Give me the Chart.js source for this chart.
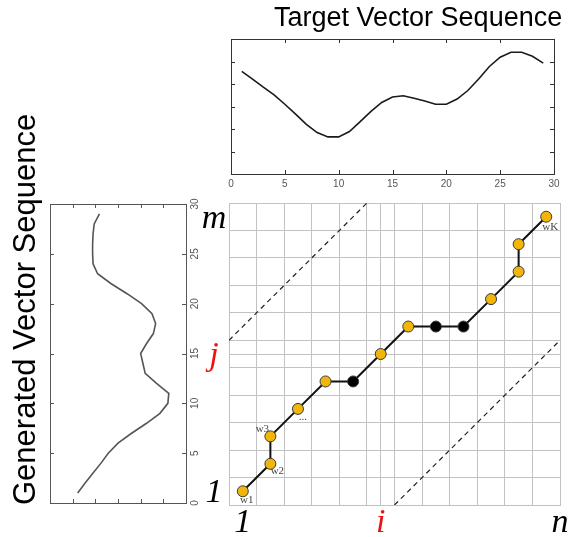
<!DOCTYPE html>
<html>
<head>
<meta charset="utf-8">
<script src="https://cdn.jsdelivr.net/npm/chart.js@4.4.1/dist/chart.umd.min.js"></script>
<style>
  html, body { margin: 0; padding: 0; background: #fff; }
  #wrap { position: relative; width: 577px; height: 537px; overflow: hidden; }
  #wrap canvas { position: absolute; left: 0; top: 0; }
  .title { position: absolute; left: 0; top: 0; font-family: "Liberation Sans", Arial, sans-serif;
           color: #000; white-space: nowrap; line-height: 1; transform-origin: 0 0; }
</style>
</head>
<body>
<div id="wrap">
  <canvas id="chart-target" width="577" height="537"></canvas>
  <canvas id="chart-generated" width="577" height="537"></canvas>
  <canvas id="chart-warp" width="577" height="537"></canvas>
  <div class="title" style="font-size:27px; transform: translate(274px, 4px)">Target Vector Sequence</div>
  <div class="title" style="font-size:31px; transform: translate(9px, 505px) rotate(-90deg)">Generated Vector Sequence</div>
</div>
<script>
// Target sequence (top plot)
const targetIdx  = [1, 2, 3, 4, 5, 6, 7, 8, 9, 10, 11, 12, 13, 14, 15, 16, 17, 18, 19, 20, 21, 22, 23, 24, 25, 26, 27, 28, 29];
const targetVals = [4.56, 4.22, 3.86, 3.52, 3.1, 2.66, 2.21, 1.84, 1.65, 1.65, 1.89, 2.33, 2.78, 3.18, 3.42, 3.48, 3.37, 3.24, 3.1, 3.1, 3.33, 3.71, 4.22, 4.78, 5.19, 5.41, 5.41, 5.23, 4.93];

// Generated sequence (left plot, drawn sideways)
const genIdx  = [1, 2, 3, 4, 5, 6, 7, 8, 9, 10, 11, 12, 13, 14, 15, 16, 17, 18, 19, 20, 21, 22, 23, 24, 25, 26, 27, 28, 29];
const genVals = [1.22, 1.55, 1.9, 2.25, 2.57, 3.0, 3.6, 4.26, 4.85, 5.2, 5.24, 4.7, 4.2, 4.1, 4.0, 4.26, 4.56, 4.66, 4.5, 4.04, 3.4, 2.7, 2.1, 1.9, 1.88, 1.88, 1.9, 1.95, 2.18];

// Warping grid
const gridCols = 12;
const gridRows = 11;
const warpCols  = [0, 1, 1, 2, 3, 4, 5, 6, 7, 8, 9, 10, 10, 11];
const warpRows  = [0, 1, 2, 3, 4, 4, 5, 6, 6, 6, 7, 8, 9, 10];
const warpKinds = ['y', 'y', 'y', 'y', 'y', 'k', 'y', 'y', 'k', 'k', 'y', 'y', 'y', 'y'];
const warpNames = ['w1', 'w2', 'w3', '...', '', '', '', '', '', '', '', '', '', 'wK'];
const upperBandX = [0, 5];
const upperBandY = [6, 11];
const lowerBandX = [6, 12];
const lowerBandY = [0, 6];

// italic axis labels of the grid
const colLabelPos  = [0.5, 5.5, 12];
const colLabelText = ['1', 'i', 'n'];
const colLabelRed  = [false, true, false];
const rowLabelPos  = [0.5, 5.5, 10.5];
const rowLabelText = ['1', 'j', 'm'];
const rowLabelRed  = [false, true, false];

// label offsets next to the path points (px)
const nameOffsets = { 'w1': [4, 9], 'w2': [7, 7], 'w3': [-8, -7], '...': [5, 8], 'wK': [4, 10] };

const SANS = '"Liberation Sans", Arial, sans-serif';
const SERIF = '"Liberation Serif", "Times New Roman", serif';

const flatX = s => { s.height = 0; };
const flatY = s => { s.width = 0; };

// box round the plot with small inward ticks (matlab look)
const boxTicks = {
    id: 'boxTicks',
    afterDraw(chart, args, opts) {
        const { ctx, chartArea: a } = chart;
        const xs = chart.scales.x, ys = chart.scales.y;
        const len = 4;
        ctx.save();
        ctx.strokeStyle = opts.color;
        ctx.lineWidth = 1;
        ctx.strokeRect(Math.round(a.left) + 0.5, Math.round(a.top) + 0.5, Math.round(a.right - a.left), Math.round(a.bottom - a.top));
        ctx.beginPath();
        xs.ticks.forEach(t => {
            const p = Math.round(xs.getPixelForValue(t.value)) + 0.5;
            if (p <= a.left + 1 || p >= a.right - 1) return;
            ctx.moveTo(p, a.bottom); ctx.lineTo(p, a.bottom - len);
            ctx.moveTo(p, a.top); ctx.lineTo(p, a.top + len);
        });
        ys.ticks.forEach(t => {
            const p = Math.round(ys.getPixelForValue(t.value)) + 0.5;
            if (p <= a.top + 1 || p >= a.bottom - 1) return;
            ctx.moveTo(a.left, p); ctx.lineTo(a.left + len, p);
            ctx.moveTo(a.right, p); ctx.lineTo(a.right - len, p);
        });
        ctx.stroke();
        if (opts.rotY) {
            ctx.fillStyle = '#555';
            ctx.font = '10px ' + SANS;
            ctx.textAlign = 'center';
            ctx.textBaseline = 'middle';
            ys.ticks.forEach(t => {
                ctx.save();
                ctx.translate(a.right + 9, ys.getPixelForValue(t.value));
                ctx.rotate(-Math.PI / 2);
                ctx.fillText(String(t.value), 0, 0);
                ctx.restore();
            });
        }
        ctx.restore();
    }
};

const warpText = {
    id: 'warpText',
    afterDatasetsDraw(chart) {
        const { ctx, chartArea: a } = chart;
        const x = chart.scales.x, y = chart.scales.y;
        ctx.save();
        ctx.font = 'italic 34px ' + SERIF;
        ctx.textAlign = 'center';
        ctx.textBaseline = 'alphabetic';
        colLabelPos.forEach((v, k) => {
            ctx.fillStyle = colLabelRed[k] ? '#ee1111' : '#000';
            ctx.fillText(colLabelText[k], x.getPixelForValue(v), a.bottom + 27);
        });
        rowLabelPos.forEach((v, k) => {
            ctx.fillStyle = rowLabelRed[k] ? '#ee1111' : '#000';
            ctx.fillText(rowLabelText[k], a.left - 15, y.getPixelForValue(v) + 11);
        });
        ctx.font = '11px ' + SERIF;
        ctx.fillStyle = '#444';
        ctx.textBaseline = 'middle';
        chart.getDatasetMeta(2).data.forEach((pt, k) => {
            const name = warpNames[k];
            if (!name) return;
            const off = nameOffsets[name];
            ctx.fillText(name, pt.x + off[0], pt.y + off[1]);
        });
        ctx.restore();
    }
};

// top plot
new Chart(document.getElementById('chart-target'), {
    type: 'scatter',
    data: {
        datasets: [{
            data: targetIdx.map((v, k) => ({ x: v, y: targetVals[k] })),
            showLine: true,
            borderColor: '#1a1a1a',
            borderWidth: 1.6,
            pointRadius: 0
        }]
    },
    options: {
        responsive: false,
        animation: false,
        layout: { padding: { left: 231, top: 39, right: 23, bottom: 345 } },
        plugins: { legend: { display: false }, tooltip: { enabled: false }, boxTicks: { color: '#333' } },
        scales: {
            x: {
                type: 'linear', min: 0, max: 30,
                ticks: { stepSize: 5, color: '#555', font: { size: 10, family: SANS }, padding: 4, maxRotation: 0 },
                grid: { display: false, drawTicks: false },
                border: { display: false },
                afterFit: s => { s.height = 18; }
            },
            y: { min: 0, max: 6, ticks: { stepSize: 1 }, display: false }
        }
    },
    plugins: [boxTicks]
});

// left plot
new Chart(document.getElementById('chart-generated'), {
    type: 'scatter',
    data: {
        datasets: [{
            data: genIdx.map((v, k) => ({ x: genVals[k], y: v })),
            showLine: true,
            borderColor: '#555',
            borderWidth: 1.6,
            pointRadius: 0
        }]
    },
    options: {
        responsive: false,
        animation: false,
        layout: { padding: { left: 50, top: 204, right: 391, bottom: 34 } },
        plugins: { legend: { display: false }, tooltip: { enabled: false }, boxTicks: { color: '#555', rotY: true } },
        scales: {
            x: { type: 'linear', min: 0, max: 6, ticks: { stepSize: 1 }, display: false },
            y: { position: 'right', min: 0, max: 30, ticks: { stepSize: 5 }, display: false }
        }
    },
    plugins: [boxTicks]
});

// warping path grid
const addMid = pos => s => {
    s.ticks.push({ value: pos });
    s.ticks.sort((p, q) => p.value - q.value);
};
new Chart(document.getElementById('chart-warp'), {
    type: 'scatter',
    data: {
        datasets: [{
            data: upperBandX.map((v, k) => ({ x: v, y: upperBandY[k] })),
            showLine: true, borderColor: '#222', borderWidth: 1.2, borderDash: [5, 4], pointRadius: 0
        }, {
            data: lowerBandX.map((v, k) => ({ x: v, y: lowerBandY[k] })),
            showLine: true, borderColor: '#222', borderWidth: 1.2, borderDash: [5, 4], pointRadius: 0
        }, {
            data: warpCols.map((c, k) => ({ x: c + 0.5, y: warpRows[k] + 0.5 })),
            showLine: true,
            borderColor: '#111',
            borderWidth: 2,
            pointRadius: 5.5,
            pointBorderWidth: 1,
            pointBorderColor: '#3a3a3a',
            pointBackgroundColor: warpKinds.map(t => t === 'k' ? '#000' : '#f2b50a')
        }]
    },
    options: {
        responsive: false,
        animation: false,
        layout: { padding: { left: 229, top: 203, right: 17, bottom: 32 } },
        plugins: { legend: { display: false }, tooltip: { enabled: false } },
        scales: {
            x: {
                type: 'linear', min: 0, max: gridCols,
                ticks: { stepSize: 1, display: false },
                grid: { color: '#c2c2c2', drawTicks: false },
                border: { color: '#c2c2c2' },
                afterBuildTicks: addMid(colLabelPos[1]),
                afterFit: flatX
            },
            y: {
                type: 'linear', min: 0, max: gridRows,
                ticks: { stepSize: 1, display: false },
                grid: { color: '#c2c2c2', drawTicks: false },
                border: { color: '#c2c2c2' },
                afterBuildTicks: addMid(rowLabelPos[1]),
                afterFit: flatY
            }
        }
    },
    plugins: [warpText]
});
</script>
</body>
</html>
